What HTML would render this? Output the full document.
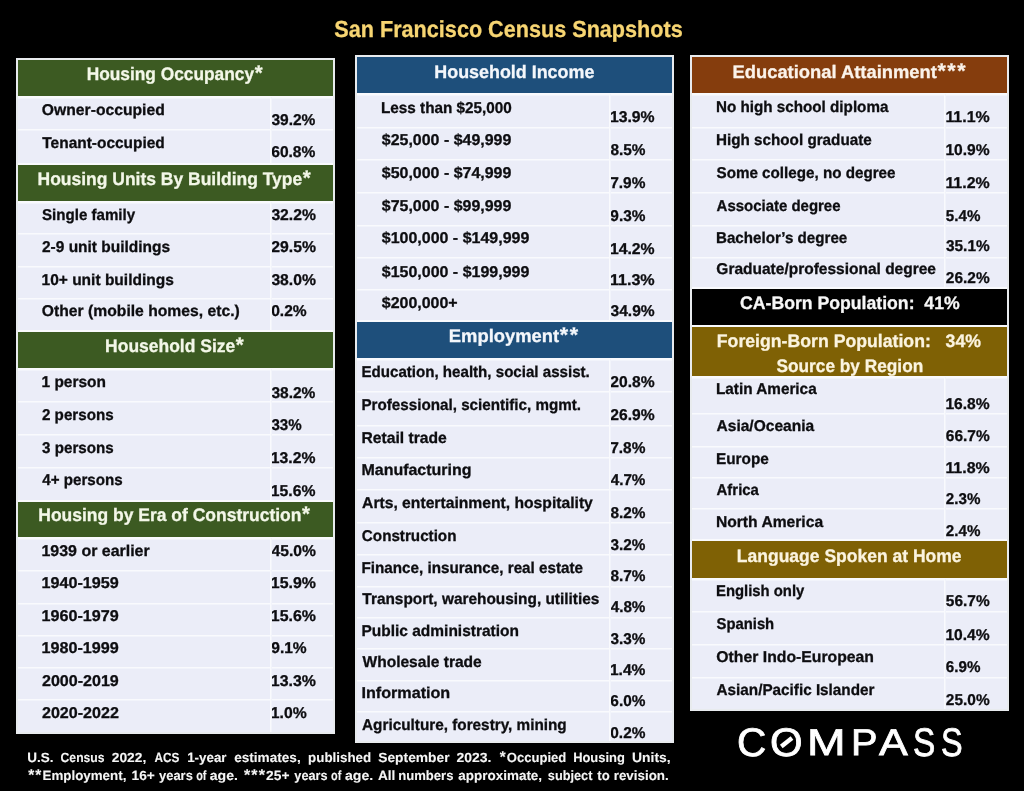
<!DOCTYPE html>
<html lang="en">
<head>
<meta charset="utf-8">
<title>San Francisco Census Snapshots</title>
<style>
html,body{margin:0;padding:0;background:#000;}
body{width:1024px;height:791px;position:relative;overflow:hidden;font-family:"Liberation Sans", sans-serif;font-weight:bold;text-rendering:geometricPrecision;}
span{position:absolute;white-space:nowrap;transform-origin:0 0;-webkit-text-stroke:0.3px currentColor;}
i.a{font-style:normal;font-size:1.17em;line-height:0;margin-left:.03em;letter-spacing:.07em;}
h1,h2,p{margin:0;font-size:inherit;font-weight:inherit;}
#title span{font-size:23.2px;line-height:29px;color:#f7d572;}
.panel{position:absolute;box-sizing:border-box;border:2px solid #e8ebee;background:#ebedf8;overflow:hidden;}
.hdr,.row,.vline{position:absolute;left:0;}
.hdr{box-shadow:inset 0 1px 0 #f9fafd,0 -1px 0 #f9fafd;}
.hdr.first{box-shadow:none;}
.hdr span{font-size:18.1px;line-height:23px;}
.row{right:0;box-shadow:inset 0 1px 0 #f9fafd,inset 0 2px 0 #f2f4fb;}
.row.top{box-shadow:inset 0 2px 0 #f9fafd,inset 0 3px 0 #f2f4fb;}
.row span{font-size:15.6px;line-height:20px;color:#0d0d10;}
.vline{width:1px;background:#f9fafd;box-shadow:1px 0 0 #f2f4fb;}
#note span{font-size:13.3px;line-height:18px;color:#f5f5f5;-webkit-text-stroke-width:0.1px;}
#logo span{font-size:39.2px;line-height:48px;font-weight:400;color:#fff;-webkit-text-stroke:0.8px #fff;}
#logo svg{position:absolute;left:772px;top:727px;}
</style>
</head>
<body>
<h1 id="title"><span style="left:334px;top:15px;transform:matrix(0.9323,0,0,1,0.33,0)">San Francisco Census Snapshots</span></h1>
<section class="panel" id="housing" style="left:16px;top:58px;width:319px;height:676px">
<h2 class="hdr first" style="top:0px;height:36px;width:315px;background:#3c5a22;color:#f3f7e8">
<span style="left:68px;top:3px;transform:matrix(0.9568,0,0,1,0.64,0)">Housing Occupancy<i class="a">*</i></span>
</h2>
<div class="row top" style="top:36px;height:33px"><span style="left:23px;top:5px;transform:matrix(1.0060,0,0,1,0.85,0)">Owner-occupied</span><span style="left:253px;top:15px;transform:matrix(0.9950,0,0,1,0.39,0)">39.2%</span></div>
<div class="row" style="top:69px;height:35px"><span style="left:24px;top:5px;transform:matrix(0.9903,0,0,1,0.33,0)">Tenant-occupied</span><span style="left:253px;top:14px;transform:matrix(0.9989,0,0,1,0.22,0)">60.8%</span></div>
<div class="vline" style="left:252px;top:37px;height:67px"></div>
<h2 class="hdr" style="top:104px;height:37px;width:315px;background:#3c5a22;color:#f3f7e8">
<span style="left:19px;top:4px;transform:matrix(0.9655,0,0,1,0.58,0)">Housing Units By Building Type<i class="a">*</i></span>
</h2>
<div class="row top" style="top:141px;height:32px"><span style="left:24px;top:5px;transform:matrix(0.9674,0,0,1,0.03,0)">Single family</span><span style="left:253px;top:5px;transform:matrix(1.0065,0,0,1,0.39,0)">32.2%</span></div>
<div class="row" style="top:173px;height:33px"><span style="left:23px;top:5px;transform:matrix(0.9928,0,0,1,0.96,0)">2-9 unit buildings</span><span style="left:253px;top:5px;transform:matrix(1.0097,0,0,1,0.25,0)">29.5%</span></div>
<div class="row" style="top:206px;height:32px"><span style="left:23px;top:5px;transform:matrix(0.9949,0,0,1,0.52,0)">10+ unit buildings</span><span style="left:253px;top:5px;transform:matrix(1.0065,0,0,1,0.39,0)">38.0%</span></div>
<div class="row" style="top:238px;height:33px"><span style="left:23px;top:4px;transform:matrix(1.0060,0,0,1,0.85,0)">Other (mobile homes, etc.)</span><span style="left:253px;top:4px;transform:matrix(0.9981,0,0,1,0.18,0)">0.2%</span></div>
<div class="vline" style="left:252px;top:142px;height:129px"></div>
<h2 class="hdr" style="top:271px;height:37px;width:315px;background:#3c5a22;color:#f3f7e8">
<span style="left:87px;top:4px;transform:matrix(0.9660,0,0,1,0.08,0)">Household Size<i class="a">*</i></span>
</h2>
<div class="row top" style="top:308px;height:33px"><span style="left:23px;top:5px;transform:matrix(0.9909,0,0,1,0.52,0)">1 person</span><span style="left:253px;top:16px;transform:matrix(0.9950,0,0,1,0.39,0)">38.2%</span></div>
<div class="row" style="top:341px;height:33px"><span style="left:23px;top:5px;transform:matrix(0.9726,0,0,1,0.97,0)">2 persons</span><span style="left:253px;top:15px;transform:matrix(0.9682,0,0,1,0.41,0)">33%</span></div>
<div class="row" style="top:374px;height:33px"><span style="left:24px;top:5px;transform:matrix(0.9708,0,0,1,0.10,0)">3 persons</span><span style="left:252px;top:15px;transform:matrix(1.0084,0,0,1,0.81,0)">13.2%</span></div>
<div class="row" style="top:407px;height:34px"><span style="left:24px;top:4px;transform:matrix(0.9705,0,0,1,0.27,0)">4+ persons</span><span style="left:252px;top:15px;transform:matrix(1.0084,0,0,1,0.81,0)">15.6%</span></div>
<div class="vline" style="left:252px;top:309px;height:132px"></div>
<h2 class="hdr" style="top:441px;height:36px;width:315px;background:#3c5a22;color:#f3f7e8">
<span style="left:20px;top:3px;transform:matrix(0.9658,0,0,1,0.33,0)">Housing by Era of Construction<i class="a">*</i></span>
</h2>
<div class="row top" style="top:477px;height:33px"><span style="left:23px;top:5px;transform:matrix(1.0230,0,0,1,0.49,0)">1939 or earlier</span><span style="left:253px;top:5px;transform:matrix(1.0025,0,0,1,0.57,0)">45.0%</span></div>
<div class="row" style="top:510px;height:33px"><span style="left:23px;top:4px;transform:matrix(1.0370,0,0,1,0.48,0)">1940-1959</span><span style="left:252px;top:4px;transform:matrix(1.0200,0,0,1,0.80,0)">15.9%</span></div>
<div class="row" style="top:543px;height:32px"><span style="left:23px;top:4px;transform:matrix(1.0370,0,0,1,0.48,0)">1960-1979</span><span style="left:252px;top:4px;transform:matrix(1.0200,0,0,1,0.80,0)">15.6%</span></div>
<div class="row" style="top:575px;height:32px"><span style="left:23px;top:4px;transform:matrix(1.0370,0,0,1,0.48,0)">1980-1999</span><span style="left:253px;top:4px;transform:matrix(0.9960,0,0,1,0.25,0)">9.1%</span></div>
<div class="row" style="top:607px;height:32px"><span style="left:23px;top:5px;transform:matrix(1.0308,0,0,1,0.94,0)">2000-2019</span><span style="left:252px;top:5px;transform:matrix(1.0200,0,0,1,0.80,0)">13.3%</span></div>
<div class="row" style="top:639px;height:33px"><span style="left:23px;top:5px;transform:matrix(1.0314,0,0,1,0.94,0)">2020-2022</span><span style="left:252px;top:5px;transform:matrix(1.0087,0,0,1,0.81,0)">1.0%</span></div>
<div class="vline" style="left:252px;top:478px;height:194px"></div>
</section>
<section class="panel" id="economy" style="left:355px;top:55px;width:319px;height:688px">
<h2 class="hdr first" style="top:0px;height:36px;width:315px;background:#1e4f7b;color:#f4f7fb">
<span style="left:77px;top:4px;transform:matrix(0.9889,0,0,1,0.30,0)">Household Income</span>
</h2>
<div class="row top" style="top:36px;height:34px"><span style="left:23px;top:6px;transform:matrix(0.9803,0,0,1,0.97,0)">Less than $25,000</span><span style="left:252px;top:15px;transform:matrix(1.0119,0,0,1,0.90,0)">13.9%</span></div>
<div class="row" style="top:70px;height:32px"><span style="left:24px;top:4px;transform:matrix(1.0235,0,0,1,0.76,0)">$25,000 - $49,999</span><span style="left:253px;top:14px;transform:matrix(0.9849,0,0,1,0.40,0)">8.5%</span></div>
<div class="row" style="top:102px;height:33px"><span style="left:24px;top:5px;transform:matrix(1.0235,0,0,1,0.76,0)">$50,000 - $74,999</span><span style="left:253px;top:15px;transform:matrix(0.9894,0,0,1,0.23,0)">7.9%</span></div>
<div class="row" style="top:135px;height:33px"><span style="left:24px;top:5px;transform:matrix(1.0235,0,0,1,0.76,0)">$75,000 - $99,999</span><span style="left:253px;top:15px;transform:matrix(0.9859,0,0,1,0.36,0)">9.3%</span></div>
<div class="row" style="top:168px;height:32px"><span style="left:24px;top:4px;transform:matrix(1.0251,0,0,1,0.76,0)">$100,000 - $149,999</span><span style="left:252px;top:15px;transform:matrix(1.0119,0,0,1,0.90,0)">14.2%</span></div>
<div class="row" style="top:200px;height:32px"><span style="left:24px;top:6px;transform:matrix(1.0251,0,0,1,0.76,0)">$150,000 - $199,999</span><span style="left:252px;top:14px;transform:matrix(1.0331,0,0,1,0.88,0)">11.3%</span></div>
<div class="row" style="top:232px;height:32px"><span style="left:24px;top:5px;transform:matrix(1.0232,0,0,1,0.76,0)">$200,000+</span><span style="left:253px;top:13px;transform:matrix(0.9984,0,0,1,0.49,0)">34.9%</span></div>
<div class="vline" style="left:252px;top:37px;height:227px"></div>
<h2 class="hdr" style="top:264px;height:37px;width:315px;background:#1e4f7b;color:#f4f7fb">
<span style="left:91px;top:4px;transform:matrix(1.0167,0,0,1,0.77,0)">Employment<i class="a">**</i></span>
</h2>
<div class="row top" style="top:301px;height:33px"><span style="left:4px;top:5px;transform:matrix(0.9684,0,0,1,0.49,0)">Education, health, social assist.</span><span style="left:253px;top:15px;transform:matrix(1.0016,0,0,1,0.36,0)">20.8%</span></div>
<div class="row" style="top:334px;height:34px"><span style="left:4px;top:5px;transform:matrix(0.9745,0,0,1,0.48,0)">Professional, scientific, mgmt.</span><span style="left:253px;top:15px;transform:matrix(1.0016,0,0,1,0.36,0)">26.9%</span></div>
<div class="row" style="top:368px;height:32px"><span style="left:4px;top:4px;transform:matrix(1.0050,0,0,1,0.45,0)">Retail trade</span><span style="left:253px;top:14px;transform:matrix(0.9894,0,0,1,0.23,0)">7.8%</span></div>
<div class="row" style="top:400px;height:32px"><span style="left:4px;top:4px;transform:matrix(1.0250,0,0,1,0.43,0)">Manufacturing</span><span style="left:253px;top:14px;transform:matrix(0.9770,0,0,1,0.67,0)">4.7%</span></div>
<div class="row" style="top:432px;height:33px"><span style="left:5px;top:5px;transform:matrix(1.0050,0,0,1,0.06,0)">Arts, entertainment, hospitality</span><span style="left:253px;top:15px;transform:matrix(0.9849,0,0,1,0.40,0)">8.2%</span></div>
<div class="row" style="top:465px;height:32px"><span style="left:4px;top:5px;transform:matrix(0.9747,0,0,1,0.87,0)">Construction</span><span style="left:253px;top:14px;transform:matrix(0.9819,0,0,1,0.50,0)">3.2%</span></div>
<div class="row" style="top:497px;height:32px"><span style="left:4px;top:5px;transform:matrix(0.9755,0,0,1,0.48,0)">Finance, insurance, real estate</span><span style="left:253px;top:13px;transform:matrix(0.9849,0,0,1,0.40,0)">8.7%</span></div>
<div class="row" style="top:529px;height:31px"><span style="left:5px;top:4px;transform:matrix(0.9876,0,0,1,0.33,0)">Transport, warehousing, utilities</span><span style="left:253px;top:12px;transform:matrix(0.9770,0,0,1,0.67,0)">4.8%</span></div>
<div class="row" style="top:560px;height:31px"><span style="left:4px;top:5px;transform:matrix(0.9932,0,0,1,0.46,0)">Public administration</span><span style="left:253px;top:13px;transform:matrix(0.9819,0,0,1,0.50,0)">3.3%</span></div>
<div class="row" style="top:591px;height:32px"><span style="left:5px;top:5px;transform:matrix(0.9978,0,0,1,0.45,0)">Wholesale trade</span><span style="left:252px;top:13px;transform:matrix(0.9985,0,0,1,0.92,0)">1.4%</span></div>
<div class="row" style="top:623px;height:31px"><span style="left:4px;top:4px;transform:matrix(1.0357,0,0,1,0.41,0)">Information</span><span style="left:253px;top:12px;transform:matrix(0.9867,0,0,1,0.33,0)">6.0%</span></div>
<div class="row" style="top:654px;height:30px"><span style="left:5px;top:5px;transform:matrix(0.9814,0,0,1,0.07,0)">Agriculture, forestry, mining</span><span style="left:253px;top:13px;transform:matrix(0.9880,0,0,1,0.29,0)">0.2%</span></div>
<div class="vline" style="left:252px;top:302px;height:382px"></div>
</section>
<section class="panel" id="people" style="left:690px;top:55px;width:319px;height:656px">
<h2 class="hdr first" style="top:0px;height:36px;width:315px;background:#853d0d;color:#fbf3ea">
<span style="left:40px;top:4px;transform:matrix(1.0144,0,0,1,0.52,0)">Educational Attainment<i class="a">***</i></span>
</h2>
<div class="row top" style="top:36px;height:34px"><span style="left:23px;top:5px;transform:matrix(0.9756,0,0,1,0.98,0)">No high school diploma</span><span style="left:253px;top:15px;transform:matrix(1.0212,0,0,1,0.39,0)">11.1%</span></div>
<div class="row" style="top:70px;height:32px"><span style="left:23px;top:4px;transform:matrix(0.9769,0,0,1,0.98,0)">High school graduate</span><span style="left:253px;top:14px;transform:matrix(1.0002,0,0,1,0.42,0)">10.9%</span></div>
<div class="row" style="top:102px;height:33px"><span style="left:24px;top:5px;transform:matrix(0.9743,0,0,1,0.52,0)">Some college, no degree</span><span style="left:253px;top:15px;transform:matrix(1.0212,0,0,1,0.39,0)">11.2%</span></div>
<div class="row" style="top:135px;height:33px"><span style="left:24px;top:5px;transform:matrix(0.9595,0,0,1,0.58,0)">Associate degree</span><span style="left:253px;top:15px;transform:matrix(0.9717,0,0,1,0.86,0)">5.4%</span></div>
<div class="row" style="top:168px;height:32px"><span style="left:23px;top:4px;transform:matrix(0.9709,0,0,1,0.98,0)">Bachelor’s degree</span><span style="left:253px;top:12px;transform:matrix(0.9869,0,0,1,1.00,0)">35.1%</span></div>
<div class="row" style="top:200px;height:31px"><span style="left:24px;top:3px;transform:matrix(0.9938,0,0,1,0.36,0)">Graduate/professional degree</span><span style="left:253px;top:12px;transform:matrix(0.9900,0,0,1,0.86,0)">26.2%</span></div>
<div class="vline" style="left:252px;top:37px;height:194px"></div>
<h2 class="hdr" style="top:231px;height:37px;width:315px;background:#000000;color:#f7f7f7">
<span style="left:48px;top:4px;transform:matrix(0.9755,0,0,1,0.02,0)">CA-Born Population:&nbsp; 41%</span>
</h2>
<h2 class="hdr" style="top:269px;height:50px;width:315px;background:#7f6105;color:#fbf4df">
<span style="left:24px;top:4px;transform:matrix(0.9767,0,0,1,0.82,0)">Foreign-Born Population:&nbsp;&nbsp; 34%</span>
<span style="left:84px;top:29px;transform:matrix(0.9544,0,0,1,0.46,0)">Source by Region</span>
</h2>
<div class="row top" style="top:319px;height:37px"><span style="left:23px;top:4px;transform:matrix(0.9818,0,0,1,0.97,0)">Latin America</span><span style="left:253px;top:19px;transform:matrix(1.0002,0,0,1,0.42,0)">16.8%</span></div>
<div class="row" style="top:356px;height:33px"><span style="left:24px;top:4px;transform:matrix(0.9959,0,0,1,0.57,0)">Asia/Oceania</span><span style="left:253px;top:14px;transform:matrix(0.9908,0,0,1,0.83,0)">66.7%</span></div>
<div class="row" style="top:389px;height:31px"><span style="left:23px;top:4px;transform:matrix(0.9829,0,0,1,0.97,0)">Europe</span><span style="left:253px;top:13px;transform:matrix(1.0212,0,0,1,0.39,0)">11.8%</span></div>
<div class="row" style="top:420px;height:31px"><span style="left:24px;top:4px;transform:matrix(0.9567,0,0,1,0.59,0)">Africa</span><span style="left:253px;top:13px;transform:matrix(0.9713,0,0,1,0.87,0)">2.3%</span></div>
<div class="row" style="top:451px;height:32px"><span style="left:23px;top:5px;transform:matrix(1.0026,0,0,1,0.95,0)">North America</span><span style="left:253px;top:14px;transform:matrix(0.9713,0,0,1,0.87,0)">2.4%</span></div>
<div class="vline" style="left:252px;top:320px;height:163px"></div>
<h2 class="hdr" style="top:483px;height:38px;width:315px;background:#7f6105;color:#fbf4df">
<span style="left:44px;top:5px;transform:matrix(0.9676,0,0,1,0.83,0)">Language Spoken at Home</span>
</h2>
<div class="row top" style="top:521px;height:33px"><span style="left:24px;top:4px;transform:matrix(0.9530,0,0,1,0.00,0)">English only</span><span style="left:253px;top:14px;transform:matrix(0.9904,0,0,1,0.85,0)">56.7%</span></div>
<div class="row" style="top:554px;height:33px"><span style="left:24px;top:4px;transform:matrix(0.9503,0,0,1,0.53,0)">Spanish</span><span style="left:253px;top:15px;transform:matrix(1.0002,0,0,1,0.42,0)">10.4%</span></div>
<div class="row" style="top:587px;height:33px"><span style="left:24px;top:4px;transform:matrix(1.0107,0,0,1,0.35,0)">Other Indo-European</span><span style="left:253px;top:14px;transform:matrix(0.9723,0,0,1,0.84,0)">6.9%</span></div>
<div class="row" style="top:620px;height:32px"><span style="left:24px;top:4px;transform:matrix(0.9792,0,0,1,0.58,0)">Asian/Pacific Islander</span><span style="left:253px;top:14px;transform:matrix(0.9900,0,0,1,0.86,0)">25.0%</span></div>
<div class="vline" style="left:252px;top:522px;height:130px"></div>
</section>
<p id="note">
<span style="left:27px;top:749px;transform:matrix(1.0142,0,0,1,0.19,0)">U.S.</span> <span style="left:60px;top:749px;transform:matrix(0.9146,0,0,1,0.59,0)">Census</span> <span style="left:111px;top:749px;transform:matrix(1.0375,0,0,1,0.72,0)">2022,</span> <span style="left:154px;top:749px;transform:matrix(0.8878,0,0,1,0.56,0)">ACS</span> <span style="left:187px;top:749px;transform:matrix(1.0045,0,0,1,0.16,0)">1-year</span> <span style="left:234px;top:749px;transform:matrix(1.0228,0,0,1,0.16,0)">estimates,</span> <span style="left:308px;top:749px;transform:matrix(1.0044,0,0,1,0.11,0)">published</span> <span style="left:378px;top:749px;transform:matrix(1.0384,0,0,1,0.23,0)">September</span> <span style="left:456px;top:749px;transform:matrix(1.0509,0,0,1,0.42,0)">2023.</span> <span style="left:499px;top:749px;transform:matrix(0.9829,0,0,1,0.25,0)"><i class="a">*</i>Occupied</span> <span style="left:573px;top:749px;transform:matrix(0.9728,0,0,1,0.13,0)">Housing</span> <span style="left:632px;top:749px;transform:matrix(1.0439,0,0,1,0.06,0)">Units,</span>
<span style="left:27px;top:767px;transform:matrix(1.0040,0,0,1,0.74,0)"><i class="a">**</i>Employment,</span> <span style="left:131px;top:767px;transform:matrix(1.0331,0,0,1,0.53,0)">16+</span> <span style="left:159px;top:767px;transform:matrix(0.9720,0,0,1,0.05,0)">years</span> <span style="left:196px;top:767px;transform:matrix(0.8216,0,0,1,0.17,0)">of</span> <span style="left:209px;top:767px;transform:matrix(1.0591,0,0,1,0.77,0)">age.</span> <span style="left:243px;top:767px;transform:matrix(1.0379,0,0,1,0.42,0)"><i class="a">***</i>25+</span> <span style="left:294px;top:767px;transform:matrix(0.9573,0,0,1,0.35,0)">years</span> <span style="left:330px;top:767px;transform:matrix(0.8216,0,0,1,0.97,0)">of</span> <span style="left:344px;top:767px;transform:matrix(1.0591,0,0,1,0.97,0)">age.</span> <span style="left:377px;top:767px;transform:matrix(1.0265,0,0,1,0.91,0)">All</span> <span style="left:398px;top:767px;transform:matrix(0.9834,0,0,1,0.23,0)">numbers</span> <span style="left:458px;top:767px;transform:matrix(1.0127,0,0,1,0.29,0)">approximate,</span> <span style="left:547px;top:767px;transform:matrix(0.9595,0,0,1,0.79,0)">subject</span> <span style="left:597px;top:767px;transform:matrix(0.9860,0,0,1,0.34,0)">to</span> <span style="left:613px;top:767px;transform:matrix(1.0058,0,0,1,0.71,0)">revision.</span>
</p>
<div id="logo">
<span style="left:736.51px;top:719.22px;transform:scale(1.0342,1.0181)">C</span>
<span style="left:770.46px;top:719.22px;transform:scale(1.0703,1.0181)">O</span>
<span style="left:807.15px;top:721.18px;transform:scale(1.1820,0.9484)">M</span>
<span style="left:851.39px;top:721.18px;transform:scale(1.0163,0.9484)">P</span>
<span style="left:878.54px;top:721.18px;transform:scale(1.1018,0.9484)">A</span>
<span style="left:912.60px;top:719.22px;transform:scale(0.8515,1.0181)">S</span>
<span style="left:940.52px;top:719.22px;transform:scale(0.8266,1.0181)">S</span>
<svg width="30" height="30" viewBox="0 0 30 30"><line x1="9.3" y1="19.4" x2="20.0" y2="11.0" stroke="#fff" stroke-width="4.4"/></svg>
</div>
</body>
</html>
